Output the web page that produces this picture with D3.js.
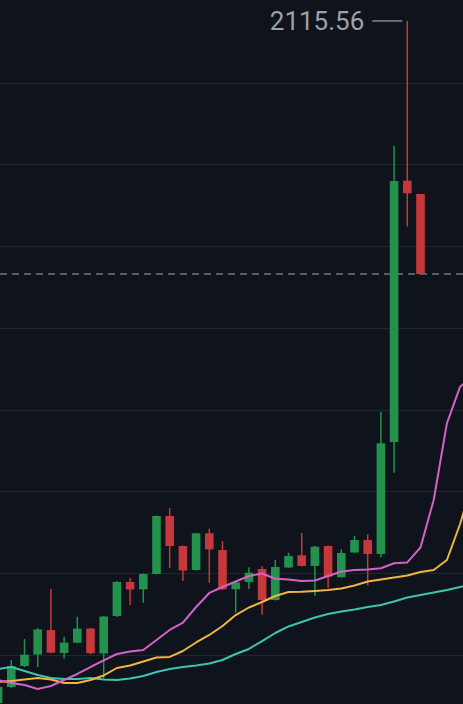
<!DOCTYPE html>
<html>
<head>
<meta charset="utf-8">
<script src="https://cdn.jsdelivr.net/npm/d3@7"></script>
<style>
  html, body { margin: 0; padding: 0; background: #0f131b; }
  svg { display: block; }
</style>
</head>
<body>
<div id="chart"></div>
<script>
// candle index (first one is cut off at the left edge)
var idx = d3.range(-1, 32);
var opens  = [1281.3, 1300.9, 1326.6, 1340.6, 1370.6, 1342.5, 1355.1, 1372.4, 1341.9, 1387.7, 1429.3,
              1420.4, 1439.1, 1510.0, 1473.3, 1444.0, 1488.9, 1468.4, 1420.4, 1429.3, 1445.2, 1407.3,
              1447.0, 1462.0, 1448.9, 1473.3, 1435.1, 1465.4, 1480.7, 1463.6, 1600.5, 1920.1, 1903.9];
var highs  = [1302.1, 1333.9, 1359.6, 1373.0, 1421.1, 1362.4, 1386.9, 1373.0, 1387.7, 1430.5, 1434.2,
              1439.7, 1510.6, 1519.8, 1474.0, 1489.2, 1494.5, 1479.1, 1429.3, 1447.3, 1448.9, 1456.2,
              1465.1, 1489.2, 1473.3, 1474.0, 1469.3, 1485.6, 1487.4, 1637.2, 1962.6, 2115.56, 1903.9];
var lows   = [1277.6, 1299.7, 1325.3, 1325.3, 1342.5, 1335.5, 1354.7, 1341.2, 1311.9, 1386.5, 1400.8,
              1404.0, 1438.5, 1446.4, 1430.5, 1443.4, 1428.5, 1419.5, 1391.8, 1420.7, 1389.3, 1406.7,
              1446.4, 1448.3, 1412.2, 1422.0, 1434.6, 1464.8, 1425.0, 1459.5, 1563.0, 1864.1, 1806.0];
var closes = [1300.9, 1326.6, 1340.4, 1371.2, 1342.8, 1355.1, 1372.2, 1342.1, 1387.1, 1429.3, 1420.1,
              1439.1, 1510.0, 1473.3, 1443.4, 1488.9, 1469.1, 1420.4, 1428.7, 1440.7, 1407.3, 1447.7,
              1461.1, 1448.9, 1472.5, 1435.8, 1464.8, 1480.7, 1463.6, 1598.9, 1919.8, 1904.7, 1806.0];

// moving averages (drawn shifted forward, so they run past the last candle)
var maIdx = d3.range(-1, 36);
var maFast = [1309.4, 1305.8, 1303.3, 1298.4, 1302.1, 1309.4, 1316.8, 1325.3, 1333.3, 1341.2, 1344.3,
              1346.1, 1358.4, 1370.6, 1379.5, 1398.7, 1415.9, 1423.2, 1429.9, 1436.6, 1439.7, 1433.3,
              1432.4, 1430.5, 1431.1, 1436.6, 1442.2, 1444.0, 1444.6, 1446.1, 1452.2, 1453.2, 1471.5,
              1529.6, 1623.4, 1668.2, 1681.0];
var maMid  = [1307.0, 1308.2, 1310.1, 1311.9, 1310.1, 1305.8, 1305.8, 1309.4, 1315.0, 1324.1, 1327.2,
              1332.1, 1337.0, 1337.6, 1344.9, 1355.3, 1364.5, 1375.5, 1388.9, 1398.1, 1404.8, 1412.2,
              1417.1, 1417.4, 1418.3, 1419.5, 1421.4, 1425.0, 1429.9, 1432.4, 1434.8, 1437.3, 1441.5,
              1444.0, 1456.2, 1500.2, 1554.1];
var maSlow = [1322.9, 1325.3, 1320.4, 1315.6, 1311.9, 1310.7, 1310.7, 1311.9, 1310.1, 1309.4, 1311.3,
              1314.3, 1319.2, 1322.9, 1325.3, 1327.2, 1329.6, 1333.9, 1341.2, 1347.4, 1357.1, 1366.9,
              1374.9, 1380.4, 1385.9, 1390.2, 1393.2, 1395.7, 1398.7, 1401.2, 1405.5, 1410.3, 1413.4,
              1416.5, 1419.5, 1423.2, 1426.9];

var gridPrices = [2040, 1940, 1840, 1740, 1640, 1540, 1440, 1340];
var highLabel = "2115.56";

var width = 463,
    height = 704;

var svg = d3.select("#chart").append("svg")
    .attr("width", width)
    .attr("height", height);

svg.append("rect")
    .attr("width", width)
    .attr("height", height)
    .attr("fill", "#0f131b");

var x = d3.scaleLinear()
    .domain([-1, 35])
    .range([-1.9, 473.3]);

var y = d3.scaleLinear()
    .domain([2040, 1340])
    .range([82.7, 655]);

// grid
svg.append("g").selectAll("line")
    .data(gridPrices)
    .enter()
    .append("line")
    .attr("x1", 0)
    .attr("x2", width)
    .attr("y1", function(d) { return Math.round(y(d)) + 0.5; })
    .attr("y2", function(d) { return Math.round(y(d)) + 0.5; })
    .attr("stroke", "#20252e")
    .attr("stroke-width", 1);

// last price line
var lastClose = closes[closes.length - 1];
svg.append("line")
    .attr("x1", 0)
    .attr("x2", width)
    .attr("y1", y(lastClose))
    .attr("y2", y(lastClose))
    .attr("stroke", "#6f7580")
    .attr("stroke-width", 1.3)
    .attr("stroke-dasharray", "7,5");

// moving averages
function maLine(values, color) {
    var line = d3.line()
        .x(function(d, i) { return x(maIdx[i]); })
        .y(function(d) { return y(d); });
    svg.append("path")
        .datum(values)
        .attr("d", line)
        .attr("fill", "none")
        .attr("stroke", color)
        .attr("stroke-width", 2)
        .attr("stroke-linejoin", "round");
}

// candles
var candles = idx.map(function(d, i) {
    return { i: d, o: opens[i], h: highs[i], l: lows[i], c: closes[i] };
});

var green = "#22924c",
    red = "#c6383b";

var g = svg.append("g");

g.selectAll(".wick")
    .data(candles)
    .enter()
    .append("line")
    .attr("class", "wick")
    .attr("x1", function(d) { return x(d.i); })
    .attr("x2", function(d) { return x(d.i); })
    .attr("y1", function(d) { return y(d.h); })
    .attr("y2", function(d) { return y(d.l); })
    .attr("stroke", function(d) { return d.c >= d.o ? green : red; })
    .attr("stroke-width", 1.5);

g.selectAll(".body")
    .data(candles)
    .enter()
    .append("rect")
    .attr("class", "body")
    .attr("x", function(d) { return x(d.i) - 4.3; })
    .attr("width", 8.6)
    .attr("y", function(d) { return y(Math.max(d.o, d.c)); })
    .attr("height", function(d) { return Math.max(1, Math.abs(y(d.o) - y(d.c))); })
    .attr("fill", function(d) { return d.c >= d.o ? green : red; });

maLine(maSlow, "#3ec4b0");
maLine(maMid, "#f0b443");
maLine(maFast, "#d462c6");

// high marker
var hiIdx = highs.indexOf(d3.max(highs));
var hiX = x(idx[hiIdx]),
    hiY = y(highs[hiIdx]);

svg.append("line")
    .attr("x1", hiX - 35)
    .attr("x2", hiX - 5)
    .attr("y1", hiY)
    .attr("y2", hiY)
    .attr("stroke", "#8b919b")
    .attr("stroke-width", 1.4);

svg.append("text")
    .attr("x", hiX - 43)
    .attr("y", hiY + 9.5)
    .attr("text-anchor", "end")
    .attr("font-family", "Roboto, sans-serif")
    .attr("font-size", 26)
    .attr("fill", "#9ba1ab")
    .text(highLabel);
</script>
</body>
</html>
